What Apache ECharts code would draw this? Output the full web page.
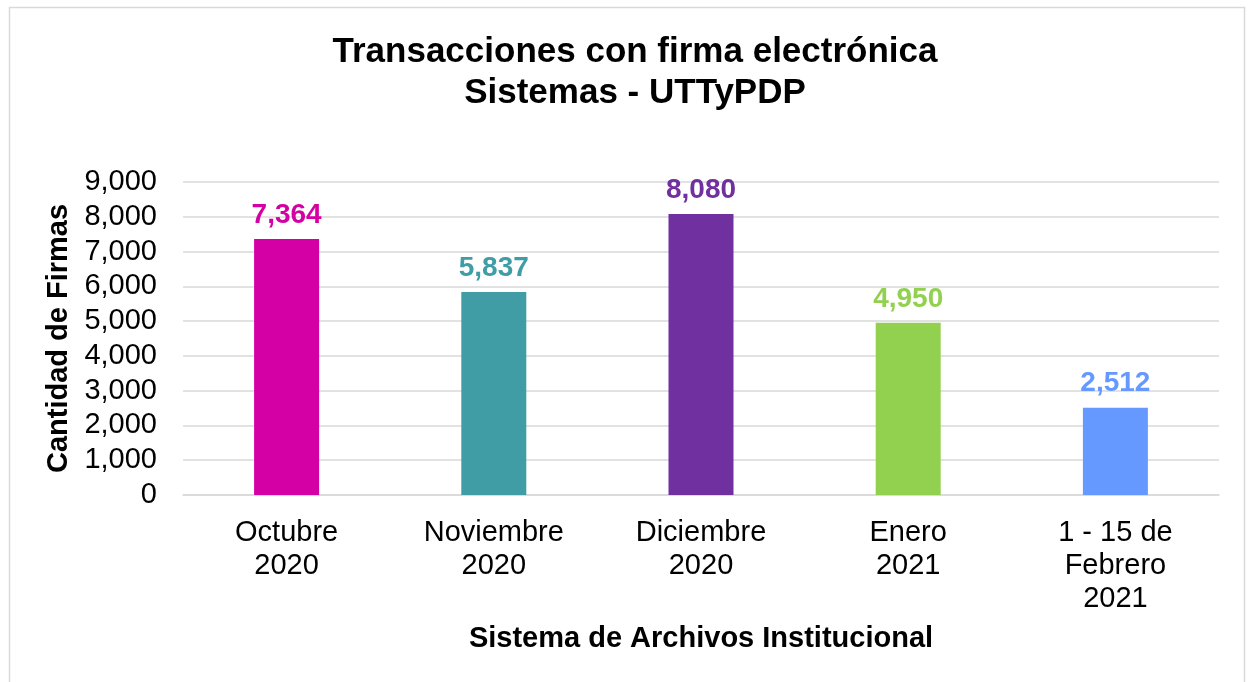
<!DOCTYPE html>
<html>
<head>
<meta charset="utf-8">
<script src="https://cdn.jsdelivr.net/npm/echarts@6/dist/echarts.min.js"></script>
<style>
  html, body { margin: 0; padding: 0; background: #fff; }
  #main { width: 1249px; height: 682px; }
</style>
</head>
<body>
<div id="main"></div>
<script>
var categories = ['Octubre\n2020', 'Noviembre\n2020', 'Diciembre\n2020', 'Enero\n2021', '1 - 15 de\nFebrero\n2021'];
var firmas = [7364, 5837, 8080, 4950, 2512];
var barColors = ['#D500A5', '#409CA5', '#7030A0', '#92D050', '#6699FF'];

var font = '"Liberation Sans", Arial, sans-serif';
var myChart = echarts.init(document.getElementById('main'));

var barData = firmas.map(function (v, i) {
  return {
    value: v,
    itemStyle: { color: barColors[i] },
    label: { color: barColors[i] }
  };
});

var option = {
  backgroundColor: '#fff',
  animation: false,
  graphic: [{
    type: 'rect',
    shape: { x: 9.5, y: 7.5, width: 1235, height: 690 },
    style: { fill: 'none', stroke: '#d9d9d9', lineWidth: 1.5 },
    silent: true
  }],
  title: {
    text: 'Transacciones con firma electrónica\nSistemas - UTTyPDP',
    left: 630,
    top: 27,
    textAlign: 'center',
    textStyle: {
      fontFamily: font,
      fontWeight: 'bold',
      fontSize: 35,
      lineHeight: 41,
      color: '#000'
    }
  },
  grid: {
    left: 183,
    right: 30,
    top: 182,
    bottom: 187,
    containLabel: false
  },
  xAxis: {
    type: 'category',
    data: categories,
    name: 'Sistema de Archivos Institucional',
    nameLocation: 'middle',
    nameGap: 129,
    nameTextStyle: {
      fontFamily: font,
      fontWeight: 'bold',
      fontSize: 29,
      color: '#000'
    },
    axisLine: { lineStyle: { color: '#d9d9d9', width: 1.5 } },
    axisTick: { show: false },
    axisLabel: {
      fontFamily: font,
      fontSize: 29,
      lineHeight: 33,
      color: '#000',
      margin: 21,
      verticalAlign: 'top',
      interval: 0
    }
  },
  yAxis: {
    type: 'value',
    min: 0,
    max: 9000,
    interval: 1000,
    name: 'Cantidad de Firmas',
    nameLocation: 'middle',
    nameGap: 102,
    nameTextStyle: {
      fontFamily: font,
      fontWeight: 'bold',
      fontSize: 29,
      color: '#000'
    },
    axisLine: { show: false },
    axisTick: { show: false },
    splitLine: { lineStyle: { color: '#d9d9d9', width: 1.5 } },
    axisLabel: {
      fontFamily: font,
      fontSize: 29,
      color: '#000',
      margin: 26,
      formatter: function (v) { return v.toLocaleString('en-US'); }
    }
  },
  series: [{
    name: 'Firmas',
    type: 'bar',
    barWidth: 65,
    data: barData,
    label: {
      show: true,
      position: 'top',
      distance: 10,
      fontFamily: font,
      fontWeight: 'bold',
      fontSize: 28,
      formatter: function (p) { return p.value.toLocaleString('en-US'); }
    }
  }]
};
myChart.setOption(option);
</script>
</body>
</html>
